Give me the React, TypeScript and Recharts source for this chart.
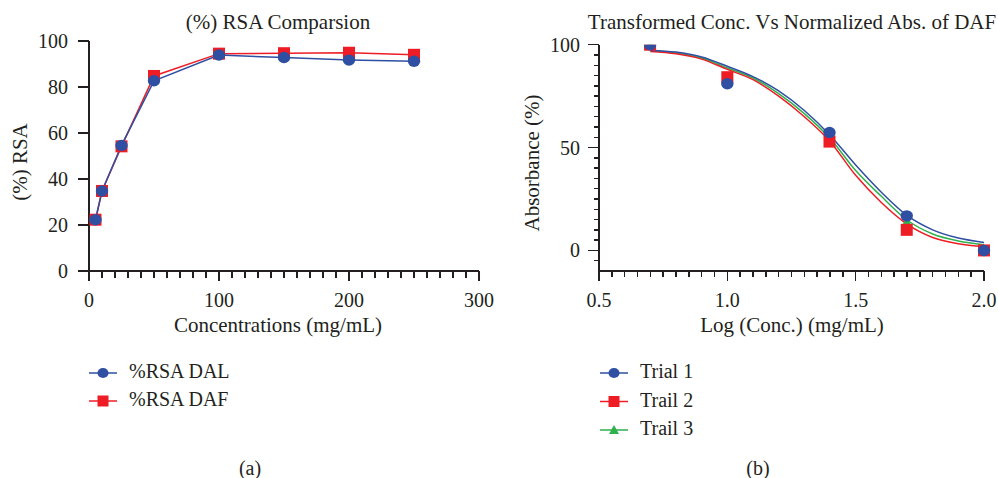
import { ComposedChart, Line, Scatter, XAxis, YAxis, Legend, Label } from "recharts";

const INK = "#231f20";
const BLUE = "#2f4fa2";
const RED = "#ee1d25";
const GREEN = "#2fb14c";
const FONT = '"Liberation Serif", "Times New Roman", serif';

// (a) %RSA vs concentration
const concentrations = [5, 10, 25, 50, 100, 150, 200, 250];
const rsaDAL = [22.3, 34.8, 54.6, 82.7, 93.9, 92.8, 91.7, 91.2];
const rsaDAF = [22.3, 34.8, 54.2, 84.8, 94.5, 94.7, 94.9, 94.0];
const rsaXMajor = [0, 100, 200, 300];
const rsaYMajor = [0, 20, 40, 60, 80, 100];

// (b) log conc vs normalised absorbance, measured points
const logConc = [0.699, 1.0, 1.398, 1.699, 2.0];
const trial1 = [100, 81, 57.3, 16.8, 0];
const trial2 = [100, 84.2, 52.9, 10, 0];
const trial3 = [100, 82.5, 55, 13.4, 0];

// (b) fitted curves
const fitX = [0.7, 0.8, 0.9, 1.0, 1.1, 1.2, 1.3, 1.4, 1.5, 1.6, 1.7, 1.8, 1.9, 2.0];
const fit1 = [97.2, 96.4, 94.0, 89.5, 84.5, 77.5, 68.0, 56.0, 41.5, 28.3, 17.0, 10.0, 6.0, 3.9];
const fit2 = [96.7, 95.6, 93.0, 88.0, 83.0, 75.0, 65.0, 53.0, 36.5, 23.3, 12.8, 6.3, 3.3, 1.9];
const fit3 = [97.0, 96.0, 93.5, 88.7, 83.8, 76.2, 66.5, 54.5, 38.8, 26.3, 14.8, 8.0, 4.6, 2.8];
const logXMajor = [0.5, 1.0, 1.5, 2.0];
const absYMajor = [0, 50, 100];

const rsaData = concentrations.map((c, i) => ({ conc: c, dal: rsaDAL[i], daf: rsaDAF[i] }));
const fitData = fitX.map((x, i) => ({ x, t1: fit1[i], t2: fit2[i], t3: fit3[i] }));
const pts = (ys: number[]) => logConc.map((x, i) => ({ x, y: ys[i] }));

const steps = (from: number, to: number, step: number) => {
  const out: number[] = [];
  for (let v = from; v <= to + step / 2; v += step) out.push(Math.round(v * 1000) / 1000);
  return out;
};
const isIn = (list: number[], v: number) => list.some((m) => Math.abs(m - v) < 1e-6);

function bottomTick(majors: number[], fmt: (v: number) => string, minorLen: number) {
  return (p: any) => {
    const v = p.payload.value;
    const major = isIn(majors, v);
    return (
      <g>
        <line
          x1={p.x}
          x2={p.x}
          y1={p.y}
          y2={p.y + (major ? 10 : minorLen)}
          stroke={INK}
          strokeWidth={1.5}
          shapeRendering="crispEdges"
        />
        {major && (
          <text x={p.x} y={p.y + 36} textAnchor="middle" fontSize={20} fill={INK}>
            {fmt(v)}
          </text>
        )}
      </g>
    );
  };
}

function leftTick(majors: number[], gap: number) {
  return (p: any) => {
    const v = p.payload.value;
    const major = isIn(majors, v);
    return (
      <g>
        <line
          x1={p.x}
          x2={p.x - (major ? 11 : 5)}
          y1={p.y}
          y2={p.y}
          stroke={INK}
          strokeWidth={1.5}
          shapeRendering="crispEdges"
        />
        {major && (
          <text x={p.x - gap} y={p.y + 7} textAnchor="end" fontSize={20} fill={INK}>
            {v}
          </text>
        )}
      </g>
    );
  };
}

const flatText = (text: string, x: number, y: number) => () => (
  <text x={x} y={y} textAnchor="middle" fontSize={21} fill={INK}>
    {text}
  </text>
);
const upText = (text: string, x: number, y: number) => () => (
  <text
    x={x}
    y={y}
    transform={`rotate(-90 ${x} ${y})`}
    textAnchor="middle"
    dominantBaseline="central"
    fontSize={21}
    fill={INK}
  >
    {text}
  </text>
);

const circle = (color: string) => (p: any) => (
  <ellipse key={`c-${p.index}`} cx={p.cx} cy={p.cy} rx={6.2} ry={5.7} fill={color} />
);
const square = (color: string) => (p: any) => (
  <rect key={`s-${p.index}`} x={p.cx - 6} y={p.cy - 6} width={12} height={12} fill={color} />
);
const triangle = (color: string) => (p: any) => (
  <polygon
    key={`t-${p.index}`}
    points={`${p.cx},${p.cy - 5.5} ${p.cx + 5.5},${p.cy + 4} ${p.cx - 5.5},${p.cy + 4}`}
    fill={color}
  />
);

type Entry = { name: string; color: string; mark: "circle" | "square" | "triangle" };

function legendBox(items: Entry[], rowGap: number) {
  return () => (
    <svg width={250} height={items.length * rowGap + 8} style={{ display: "block" }}>
      {items.map((it, i) => {
        const cy = 18 + i * rowGap;
        return (
          <g key={it.name}>
            <line x1={9} x2={37} y1={cy} y2={cy} stroke={it.color} strokeWidth={1.5} />
            {it.mark === "circle" && <ellipse cx={23} cy={cy} rx={5.5} ry={5} fill={it.color} />}
            {it.mark === "square" && <rect x={17.5} y={cy - 5.5} width={11} height={11} fill={it.color} />}
            {it.mark === "triangle" && (
              <polygon points={`23,${cy - 5} 28,${cy + 4} 18,${cy + 4}`} fill={it.color} />
            )}
            <text x={49} y={cy + 5} fontSize={20} fill={INK}>
              {it.name}
            </text>
          </g>
        );
      })}
    </svg>
  );
}

const axisStyle = { stroke: INK, strokeWidth: 1.5, shapeRendering: "crispEdges" as const };

function RsaChart() {
  return (
    <ComposedChart width={499} height={478} data={rsaData} margin={{ top: 41, right: 20, bottom: 77, left: 29 }}>
      <XAxis
        type="number"
        dataKey="conc"
        domain={[0, 300]}
        ticks={steps(0, 300, 10)}
        interval={0}
        height={70}
        tickSize={0}
        tickMargin={0}
        tickLine={false}
        axisLine={axisStyle}
        tick={bottomTick(rsaXMajor, (v) => String(v), 7)}
      >
        <Label content={flatText("Concentrations (mg/mL)", 278, 332)} />
      </XAxis>
      <YAxis
        type="number"
        domain={[0, 100]}
        ticks={rsaYMajor}
        interval={0}
        width={60}
        tickSize={0}
        tickMargin={0}
        tickLine={false}
        axisLine={axisStyle}
        tick={leftTick(rsaYMajor, 21)}
      >
        <Label content={upText("(%) RSA", 20, 162)} />
      </YAxis>
      <Legend
        verticalAlign="bottom"
        align="left"
        layout="horizontal"
        content={legendBox(
          [
            { name: "%RSA DAL", color: BLUE, mark: "circle" },
            { name: "%RSA DAF", color: RED, mark: "square" },
          ],
          28
        )}
        wrapperStyle={{ top: 355, left: 80, bottom: "auto", width: 250, height: 60 }}
      />
      <Line dataKey="daf" stroke={RED} strokeWidth={1.5} dot={square(RED)} activeDot={false} isAnimationActive={false} />
      <Line dataKey="dal" stroke={BLUE} strokeWidth={1.5} dot={circle(BLUE)} activeDot={false} isAnimationActive={false} />
    </ComposedChart>
  );
}

function AbsChart() {
  return (
    <ComposedChart width={499} height={478} data={fitData} margin={{ top: 44.7, right: 14, bottom: 47, left: 40 }}>
      <XAxis
        type="number"
        dataKey="x"
        domain={[0.5, 2.0]}
        ticks={steps(0.5, 2.0, 0.05)}
        interval={0}
        height={70}
        tickSize={0}
        tickMargin={0}
        tickLine={false}
        axisLine={axisStyle}
        tick={bottomTick(logXMajor, (v) => v.toFixed(1), 6)}
      >
        <Label content={flatText("Log (Conc.) (mg/mL)", 293, 332)} />
      </XAxis>
      <YAxis
        type="number"
        domain={[-10, 100]}
        allowDataOverflow
        ticks={steps(-5, 100, 5)}
        interval={0}
        width={60}
        tickSize={0}
        tickMargin={0}
        tickLine={false}
        axisLine={axisStyle}
        tick={leftTick(absYMajor, 19)}
      >
        <Label content={upText("Absorbance (%)", 33, 163)} />
      </YAxis>
      <Legend
        verticalAlign="bottom"
        align="left"
        layout="horizontal"
        content={legendBox(
          [
            { name: "Trial 1", color: BLUE, mark: "circle" },
            { name: "Trail 2", color: RED, mark: "square" },
            { name: "Trail 3", color: GREEN, mark: "triangle" },
          ],
          28.5
        )}
        wrapperStyle={{ top: 355, left: 92, bottom: "auto", width: 250, height: 90 }}
      />
      <Line type="monotone" dataKey="t3" stroke={GREEN} strokeWidth={1.5} dot={false} activeDot={false} isAnimationActive={false} />
      <Line type="monotone" dataKey="t2" stroke={RED} strokeWidth={1.5} dot={false} activeDot={false} isAnimationActive={false} />
      <Line type="monotone" dataKey="t1" stroke={BLUE} strokeWidth={1.5} dot={false} activeDot={false} isAnimationActive={false} />
      <Scatter data={pts(trial3)} dataKey="y" shape={triangle(GREEN)} isAnimationActive={false} />
      <Scatter data={pts(trial2)} dataKey="y" shape={square(RED)} isAnimationActive={false} />
      <Scatter data={pts(trial1)} dataKey="y" shape={circle(BLUE)} isAnimationActive={false} />
    </ComposedChart>
  );
}

export default function App() {
  return (
    <div
      style={{
        position: "absolute",
        left: 0,
        top: 0,
        width: 998,
        height: 478,
        background: "#fff",
        fontFamily: FONT,
        color: INK,
        overflow: "hidden",
      }}
    >
      <div style={{ position: "absolute", left: 0, top: 0 }}>
        <RsaChart />
      </div>
      <div style={{ position: "absolute", left: 499, top: 0 }}>
        <AbsChart />
      </div>
      <svg width={998} height={478} style={{ position: "absolute", left: 0, top: 0, pointerEvents: "none" }}>
        <text x={278} y={29} textAnchor="middle" fontSize={21} fill={INK}>
          (%) RSA Comparsion
        </text>
        <text x={792} y={29} textAnchor="middle" fontSize={21} fill={INK}>
          Transformed Conc. Vs Normalized Abs. of DAF
        </text>
        <text x={250} y={475} textAnchor="middle" fontSize={20} fill={INK}>
          (a)
        </text>
        <text x={758} y={475} textAnchor="middle" fontSize={20} fill={INK}>
          (b)
        </text>
      </svg>
    </div>
  );
}
